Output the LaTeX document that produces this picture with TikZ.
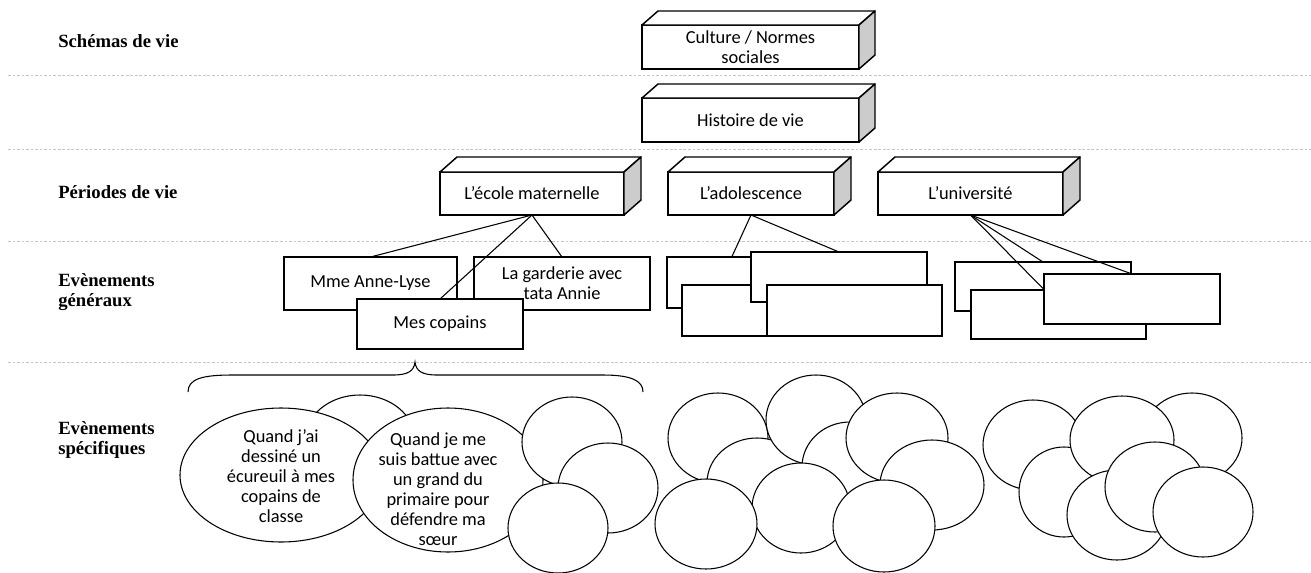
\documentclass[tikz,border=0pt]{standalone}
\usepackage{fontspec}
\setmainfont{Carlito}
\newfontfamily\labfont{Liberation Serif}
\usetikzlibrary{shapes.geometric,calc}
\newcommand\txt{\fontsize{13.8}{15}\selectfont}
\newcommand\mkdepth[3]{%
  \draw[topface] (#1.north west) -- ++(#2,-#3) -- ($(#1.north east)+(#2,-#3)$) -- (#1.north east) -- cycle;
  \draw[sideface] (#1.north east) -- ++(#2,-#3) -- ($(#1.south east)+(#2,-#3)$) -- (#1.south east) -- cycle;}
\tikzset{
  sepline/.style={draw=gray!45, line width=0.7pt, dash pattern=on 2pt off 1.4pt},
  lbl/.style={font=\labfont\bfseries\fontsize{14}{15.2}\selectfont, anchor=west, align=left, inner sep=0pt},
  sz/.style 2 args={minimum width=#1*0.75pt, minimum height=#2*0.75pt},
  front/.style={draw, line width=1.1pt, fill=white, inner sep=0pt, outer sep=0pt, font=\txt, align=center},
  topface/.style={draw, line width=1.1pt, fill=white, line join=round},
  sideface/.style={draw, line width=1.1pt, fill=gray!40, line join=round},
  rbox/.style={draw, line width=1pt, fill=white, inner sep=0pt, outer sep=0pt, font=\txt, align=center},
  ell/.style={ellipse, draw, line width=0.8pt, fill=white, inner sep=0pt, outer sep=0pt},
  etext/.style={font=\txt, align=center, inner sep=0pt},
  link/.style={line width=0.8pt},
}
\begin{document}
\begin{tikzpicture}[x=0.75pt,y=-0.75pt]
\useasboundingbox (0,0) rectangle (1311,572);
% separators
\coordinate (s1a) at (8,75);   \coordinate (s1b) at (1311,75);
\coordinate (s2a) at (8,149);  \coordinate (s2b) at (1311,149);
\coordinate (s3a) at (8,241);  \coordinate (s3b) at (1311,241);
\coordinate (s4a) at (8,362);  \coordinate (s4b) at (1311,362);
\draw[sepline] (s1a) -- (s1b);
\draw[sepline] (s2a) -- (s2b);
\draw[sepline] (s3a) -- (s3b);
\draw[sepline] (s4a) -- (s4b);
% row labels
\node[lbl] (l1) at (58,41) {Schémas de vie};
\node[lbl] (l2) at (58,192) {Périodes de vie};
\node[lbl] (l3) at (58,292) {Evènements\\généraux};
\node[lbl] (l4) at (58,440) {Evènements\\spécifiques};
% 3D boxes
\node[front, sz={217}{44}] (culture) at (750.5,47) {Culture / Normes\\sociales};
\mkdepth{culture}{16}{14}
\node[front, sz={217}{44}] (histoire) at (750.5,120) {Histoire de vie};
\mkdepth{histoire}{16}{14}
\node[front, sz={184}{43}] (ecole) at (532,193.5) {L’école maternelle};
\mkdepth{ecole}{17}{15}
\node[front, sz={166}{43}] (ado) at (751,193.5) {L’adolescence};
\mkdepth{ado}{17}{15}
\node[front, sz={185}{43}] (univ) at (970.5,193.5) {L’université};
\mkdepth{univ}{17}{15}
% general events
\node[rbox, sz={173}{53}] (mme) at (370.5,283.5) {Mme Anne-Lyse};
\node[rbox, sz={176}{53}] (garderie) at (562,283.5) {La garderie avec\\tata Annie};
\node[rbox, sz={166}{50}] (copains) at (440,324) {Mes copains};
\node[rbox, sz={175}{51}] (a1) at (754.5,282.5) {};
\node[rbox, sz={175}{51}] (a3) at (769.5,310.5) {};
\node[rbox, sz={176}{50}] (a2) at (839,277) {};
\node[rbox, sz={175}{51}] (a4) at (854.5,310.5) {};
\node[rbox, sz={176}{49}] (u1) at (1043,286.5) {};
\node[rbox, sz={175}{49}] (u2) at (1058.5,314.5) {};
\node[rbox, sz={176}{50}] (u3) at (1132,299) {};
% connectors
\draw[link] (ecole.south) -- (mme.north);
\draw[link] (ecole.south) -- (garderie.north);
\draw[link] (ecole.south) -- (copains.north);
\draw[link] (ado.south) -- ($(a1.north west)!0.37!(a1.north east)$);
\draw[link] (ado.south) -- (a2.north);
\draw[link] (univ.south) -- (u1.north);
\draw[link] (univ.south) -- ($(u2.north west)!0.42!(u2.north east)$);
\draw[link] (univ.south) -- (u3.north);
% brace
\coordinate (bl) at (188,392);
\coordinate (bt) at (415,362);
\coordinate (br) at (643,392);
\draw[line width=0.8pt] (bl) .. controls (188,379) and (202,375) .. (232,375) -- (393,375)
  .. controls (408,375) and (414,371) .. (bt)
  .. controls (416,371) and (422,375) .. (437,375) -- (603,375)
  .. controls (632,375) and (643,381) .. (br);
% specific events: left group
\node[ell, sz={110}{90}] (e0) at (360,440) {};
\node[ell, sz={202}{134}] (e1) at (281,475) {};
\node[etext] (t1) at (281,476) {Quand j’ai\\dessiné un\\écureuil à mes\\copains de\\classe};
\node[ell, sz={190}{144}] (e2) at (448,480) {};
\node[etext] (t2) at (438,489) {Quand je me\\suis battue avec\\un grand du\\primaire pour\\défendre ma\\sœur};
\node[ell, sz={100}{90}] (c1) at (572,442) {};
\node[ell, sz={100}{90}] (c2) at (608,488) {};
\node[ell, sz={100}{90}] (c3) at (558,528) {};
% middle group
\node[ell, sz={100}{90}] (m1) at (718,438) {};
\node[ell, sz={100}{90}] (m3) at (757,483) {};
\node[ell, sz={100}{90}] (m2) at (816,420) {};
\node[ell, sz={96}{90}] (m5) at (850,467) {};
\node[ell, sz={102}{90}] (m7) at (897,438) {};
\node[ell, sz={104}{90}] (m8) at (932,485) {};
\node[ell, sz={98}{90}] (m6) at (801,508) {};
\node[ell, sz={102}{90}] (m4) at (706,524) {};
\node[ell, sz={102}{92}] (m9) at (884,526) {};
% right group
\node[ell, sz={100}{90}] (r1) at (1033,445) {};
\node[ell, sz={100}{90}] (r3) at (1192,438) {};
\node[ell, sz={90}{90}] (r4) at (1064,492) {};
\node[ell, sz={104}{88}] (r2) at (1122,440) {};
\node[ell, sz={100}{90}] (r5) at (1117,515) {};
\node[ell, sz={100}{90}] (r6) at (1155,487) {};
\node[ell, sz={100}{90}] (r7) at (1203,512) {};
\end{tikzpicture}
\end{document}
